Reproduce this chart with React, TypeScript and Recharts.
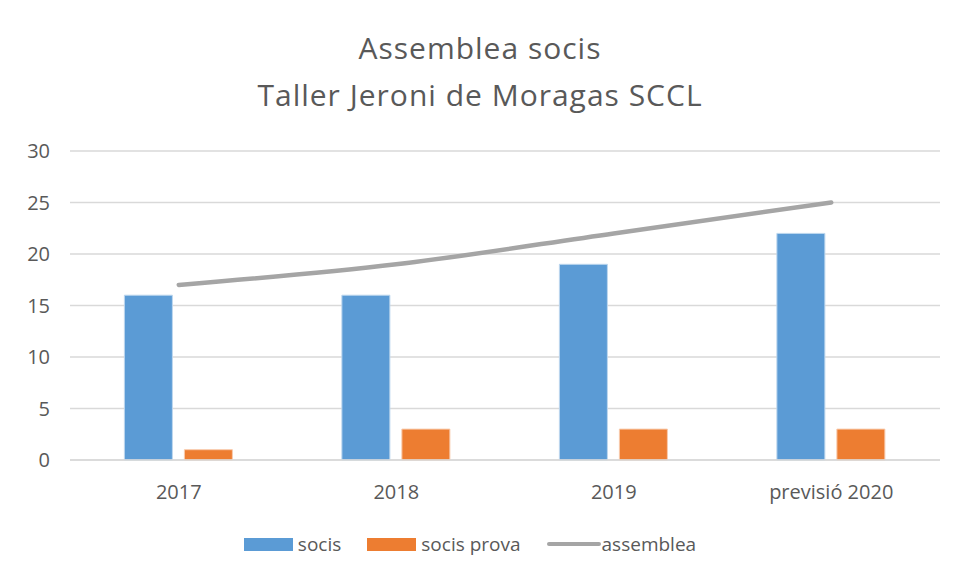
import { ComposedChart, Bar, Line, XAxis, YAxis, CartesianGrid, Legend } from 'recharts'

const years = ['2017', '2018', '2019', 'previsió 2020']
const socis = [16, 16, 19, 22]
const socisProva = [1, 3, 3, 3]
const assemblea = [17, 19, 22, 25]
const yTicks = [0, 5, 10, 15, 20, 25, 30]

const data = years.map((year, i) => ({
	year,
	socis: socis[i],
	socisProva: socisProva[i],
	assemblea: assemblea[i],
}))

const FONT = '"Open Sans", "Noto Sans", sans-serif'
const TEXT = '#595959'

const renderLegend = () => {
	const items = [
		{ label: 'socis', color: '#5B9BD5', kind: 'rect' },
		{ label: 'socis prova', color: '#ED7D31', kind: 'rect' },
		{ label: 'assemblea', color: '#A5A5A5', kind: 'line' },
	]
	return (
		<div style={{ display: 'flex', justifyContent: 'center', alignItems: 'center', fontFamily: FONT, fontSize: 19, color: TEXT }}>
			{items.map((it) => (
				<div key={it.label} style={{ display: 'flex', alignItems: 'center', margin: '0 13px' }}>
					{it.kind === 'rect' ? (
						<div style={{ width: 49, height: 13, background: it.color, marginRight: 5 }} />
					) : (
						<div style={{ width: 54, height: 4, background: it.color, borderRadius: 2, marginRight: 1 }} />
					)}
					<span>{it.label}</span>
				</div>
			))}
		</div>
	)
}

export default function App() {
	return (
		<div style={{ position: 'absolute', left: 0, top: 0, width: 960, height: 578, background: '#fff' }}>
			<div
				style={{
					position: 'absolute',
					top: 24,
					left: 0,
					width: 960,
					textAlign: 'center',
					fontFamily: FONT,
					fontSize: 30,
					letterSpacing: 1,
					lineHeight: '47px',
					color: TEXT,
				}}
			>
				<div>Assemblea socis</div>
				<div>Taller Jeroni de Moragas SCCL</div>
			</div>
			<ComposedChart
				width={960}
				height={578}
				data={data}
				margin={{ top: 151, right: 20, left: 0, bottom: 50 }}
				barGap={12}
				barCategoryGap="25%"
			>
				<CartesianGrid vertical={false} stroke="#D9D9D9" strokeWidth={1.5} />
				<XAxis
					dataKey="year"
					axisLine={{ stroke: '#D9D9D9', strokeWidth: 1.5 }}
					tickLine={false}
					height={40}
					tick={{ fill: TEXT, fontSize: 20, fontFamily: FONT }}
					tickMargin={19}
				/>
				<YAxis
					domain={[0, 30]}
					ticks={yTicks}
					width={70}
					axisLine={false}
					tickLine={false}
					tick={{ fill: TEXT, fontSize: 20, fontFamily: FONT }}
					tickMargin={14}
				/>
				<Legend verticalAlign="bottom" content={renderLegend} wrapperStyle={{ top: 531, height: 28 }} />
				<Bar dataKey="socis" fill="#5B9BD5" stroke="#BDD7EE" strokeWidth={1} isAnimationActive={false} />
				<Bar dataKey="socisProva" name="socis prova" fill="#ED7D31" stroke="#F8CBAD" strokeWidth={1} isAnimationActive={false} />
				<Line
					dataKey="assemblea"
					type="monotone"
					stroke="#A5A5A5"
					strokeWidth={4.5}
					strokeLinecap="round"
					dot={false}
					isAnimationActive={false}
				/>
			</ComposedChart>
		</div>
	)
}
